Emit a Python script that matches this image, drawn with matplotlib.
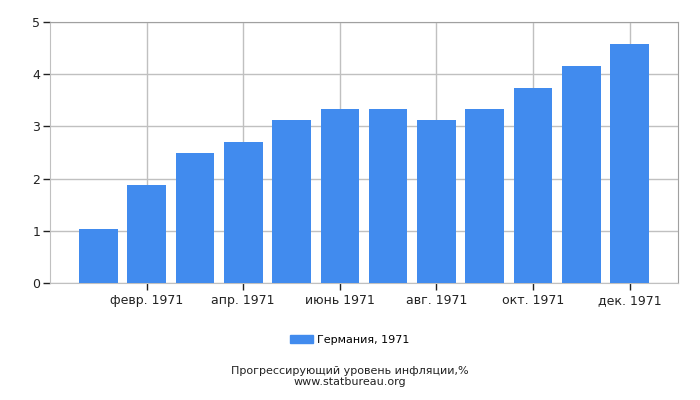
import matplotlib
matplotlib.use("Agg")
import matplotlib.pyplot as plt
from matplotlib.patches import Patch

months = ["янв. 1971", "февр. 1971", "март 1971", "апр. 1971", "май 1971", "июнь 1971",
          "июль 1971", "авг. 1971", "сент. 1971", "окт. 1971", "нояб. 1971", "дек. 1971"]
values = [1.04, 1.88, 2.50, 2.71, 3.13, 3.34, 3.34, 3.13, 3.34, 3.74, 4.16, 4.58]
series_name = "Германия, 1971"
bar_color = "#418BEE"

fig = plt.figure(figsize=(7, 4), dpi=100)
ax = fig.add_axes([0.0714, 0.2925, 0.8972, 0.6525])

x = list(range(len(values)))
ax.bar(x, values, width=0.8, color=bar_color, zorder=3)

ax.set_xlim(-1, 12)
ax.set_ylim(0, 5)
ax.set_yticks(range(6))
tick_pos = x[1::2]
ax.set_xticks(tick_pos)
ax.set_xticklabels(months[1::2])
ax.grid(True, color="#C0C0C0", linewidth=1, zorder=0)
ax.set_axisbelow(True)

for s in ["top", "right"]:
    ax.spines[s].set_color("#A0A0A0")
for s in ["left", "bottom"]:
    ax.spines[s].set_color("#C0C0C0")
ax.tick_params(axis="both", color="#222222", labelcolor="#222222", labelsize=9,
               length=5, width=1)
ax.tick_params(axis="x", pad=3)
ax.tick_params(axis="y", pad=2)

fig.legend(handles=[Patch(color=bar_color, label=series_name)], loc="center",
           bbox_to_anchor=(0.5, 0.15), frameon=False, fontsize=8,
           handlelength=2.0, handleheight=0.8, handletextpad=0.4)
fig.text(0.5, 0.072, "Прогрессирующий уровень инфляции,%", ha="center", va="center",
         fontsize=8, color="#222222")
fig.text(0.5, 0.045, "www.statbureau.org", ha="center", va="center",
         fontsize=8, color="#222222")

fig.savefig("out.png", dpi=100)
